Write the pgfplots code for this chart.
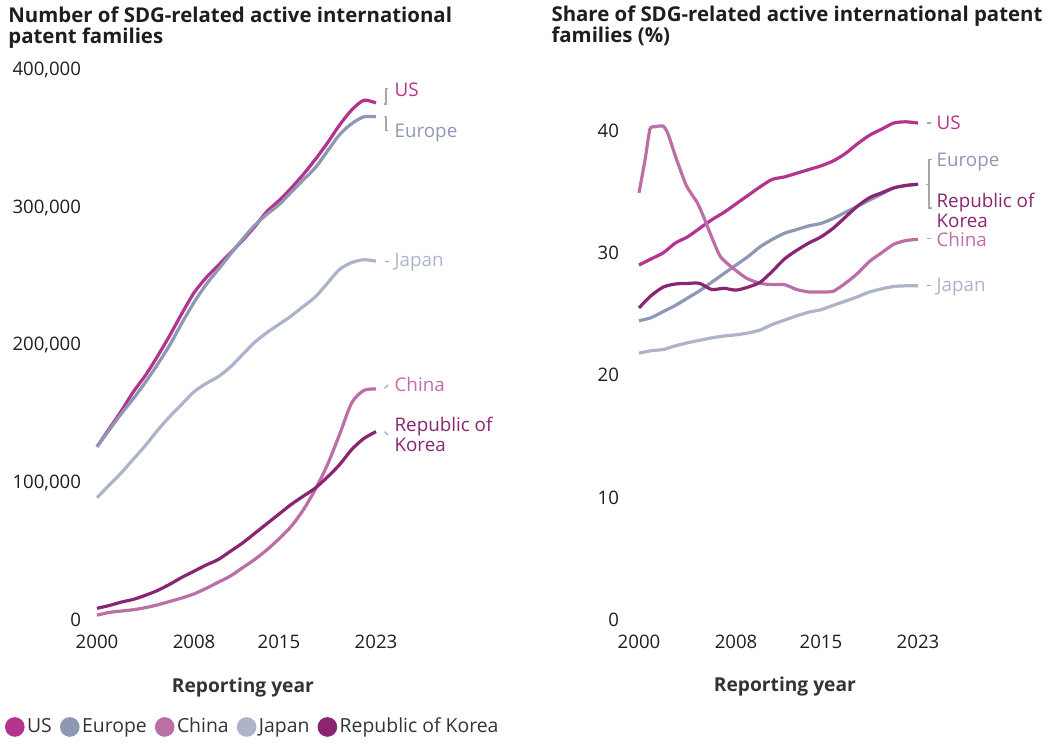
\documentclass[border=0pt]{standalone}
\usepackage{fontspec}
\setmainfont{Open Sans}
\usepackage{pgfplots}
\usepackage{pgfplotstable}
\pgfplotsset{compat=1.18}
\definecolor{cUS}{HTML}{B5338F}
\definecolor{cEU}{HTML}{8E97B4}
\definecolor{cCN}{HTML}{BC6EA7}
\definecolor{cJP}{HTML}{ADB3C9}
\definecolor{cKR}{HTML}{8A2574}
\definecolor{tickc}{HTML}{1E1E1E}
\definecolor{legc}{HTML}{333333}
\definecolor{leadc}{HTML}{A8A8A8}

\pgfplotstableread{
year US EU CN JP KR
2000 126000 126000 3500 89000 8500
2001 139000 138000 5500 98000 10500
2002 152000 150000 6500 107000 13000
2003 166000 161000 7500 117000 15000
2004 178000 173000 9000 127000 18000
2005 192000 186000 11000 138000 21500
2006 207000 200000 13500 148000 26000
2007 223000 216000 16000 157000 31000
2008 238000 231000 19000 166000 35500
2009 249000 244000 23000 172000 40000
2010 258000 255000 27500 177000 44000
2011 267000 266000 32000 184000 50000
2012 276000 277000 38000 193000 56000
2013 286000 287000 44000 202000 63000
2014 297000 295000 51000 209000 70000
2015 305000 302000 59000 215000 77000
2016 314000 311000 68000 221000 84000
2017 324000 320000 80000 228000 90000
2018 335000 329000 95000 235000 96000
2019 347000 341000 113000 245000 104000
2020 360000 353000 135000 255000 113000
2021 371000 361000 158000 260000 124000
2022 378000 366000 167000 262000 132000
2023 376000 366000 168000 261000 137000
}\counts

\pgfplotstableread{
year US EU JP KR
2000 29.0 24.45 21.8 25.5
2001 29.5 24.7 22.0 26.5
2002 30.0 25.2 22.1 27.2
2003 30.8 25.7 22.4 27.45
2004 31.3 26.3 22.65 27.5
2005 32.0 26.9 22.85 27.5
2006 32.7 27.6 23.05 27.0
2007 33.3 28.3 23.2 27.1
2008 34.0 29.0 23.3 26.95
2009 34.7 29.7 23.45 27.2
2010 35.4 30.5 23.7 27.6
2011 36.0 31.1 24.15 28.5
2012 36.2 31.6 24.5 29.5
2013 36.5 31.9 24.85 30.2
2014 36.8 32.2 25.15 30.8
2015 37.1 32.4 25.35 31.3
2016 37.5 32.8 25.7 32.0
2017 38.1 33.3 26.05 32.9
2018 38.9 33.8 26.4 33.8
2019 39.6 34.3 26.8 34.5
2020 40.1 34.8 27.05 34.9
2021 40.6 35.3 27.25 35.3
2022 40.7 35.5 27.3 35.5
2023 40.6 35.6 27.3 35.6
}\shares

% China share, read at a finer step around its early peak
\pgfplotstableread{
year CN
2000 34.9
2000.5 37.6
2000.9 40.1
2001.3 40.3
2002.0 40.35
2002.4 39.7
2003 37.9
2003.9 35.5
2004.8 34.1
2005.3 33.0
2005.9 31.5
2006.7 29.7
2007.8 28.7
2008.9 27.9
2010 27.5
2011 27.4
2012 27.4
2013 27.0
2014 26.8
2015 26.8
2016 26.85
2017 27.5
2018 28.3
2019 29.3
2020 30.0
2021 30.7
2022 31.0
2023 31.1
}\sharecn

\pgfplotsset{
  common/.style={
    scale only axis, width=139.5pt, anchor=south west,
    xmin=2000, xmax=2023, ymin=0,
    enlargelimits=false, clip=false,
    axis line style={draw=none}, tick style={draw=none}, major tick length=0pt,
    xtick={2000,2008,2015,2023},
    xticklabel style={/pgf/number format/fixed, /pgf/number format/1000 sep={}},
    xticklabel style={yshift=-3.8pt},
    ticklabel style={font=\fontsize{9.3}{10}\selectfont, text=tickc},
    /pgf/number format/assume math mode=true,
    title style={anchor=north west, align=left, inner sep=0pt, font=\bfseries\fontsize{10.2}{10.5}\selectfont, text=tickc},
    xlabel style={anchor=center, font=\bfseries\fontsize{9.6}{10}\selectfont, text=legc},
  },
  ser/.style={line width=1.6pt, smooth, tension=0.45},
}
\tikzset{
  lab/.style={anchor=west, inner sep=0pt, font=\fontsize{9.4}{10}\selectfont},
  lead/.style={draw=leadc, line width=0.6pt},
}

\begin{document}
\begin{tikzpicture}
\useasboundingbox (0,0) rectangle (524.5pt,372pt);
\begin{axis}[common,
  at={(48.5pt,62pt)}, height=275pt, ymax=400000,
  ytick={0,100000,200000,300000,400000}, scaled y ticks=false,
  yticklabel style={/pgf/number format/fixed, /pgf/number format/precision=0, /pgf/number format/1000 sep={,}},
  yticklabel style={xshift=-4.5pt},
  title={Number of SDG-related active international\\patent families},
  title style={at={(axis description cs:-0.319,1.094)}},
  xlabel={Reporting year},
  xlabel style={at={(axis description cs:0.523,-0.122)}},
  legend style={at={(axis description cs:-0.3297,-0.1945)}, anchor=west, draw=none, fill=none,
    inner sep=0pt, outer sep=0pt, legend columns=-1,
    nodes={inner sep=1.25pt, text=legc, font=\fontsize{9.7}{10}\selectfont},
    /tikz/every even column/.append style={column sep=2.8pt}},
  legend image code/.code={\fill[#1] (4.1pt,0pt) circle (4.1pt);},
]
\addplot[cUS, ser] table[x=year,y=US]{\counts};
\addlegendentry{US}
\addplot[cEU, ser] table[x=year,y=EU]{\counts};
\addlegendentry{Europe}
\addplot[cCN, ser] table[x=year,y=CN]{\counts};
\addlegendentry{China}
\addplot[cJP, ser] table[x=year,y=JP]{\counts};
\addlegendentry{Japan}
\addplot[cKR, ser] table[x=year,y=KR]{\counts};
\addlegendentry{Republic of Korea}
% leader lines
\draw[lead] (axis cs:2023.66,375300) -- (axis cs:2023.83,375300) -- (axis cs:2023.83,386500) -- (axis cs:2024.0,386500);
\draw[lead] (axis cs:2023.66,366000) -- (axis cs:2023.83,366000) -- (axis cs:2023.83,356000) -- (axis cs:2024.0,356000);
\draw[lead] (axis cs:2023.74,261000) -- (axis cs:2024.07,261000);
\draw[lead] (axis cs:2023.7,168500) -- (axis cs:2024.0,171000);
\draw[lead] (axis cs:2023.7,137000) -- (axis cs:2024.0,134500);
\node[lab, text=cUS] at (axis cs:2024.5,385500) {US};
\node[lab, text=cEU] at (axis cs:2024.5,354500) {Europe};
\node[lab, text=cJP] at (axis cs:2024.5,260000) {Japan};
\node[lab, text=cCN] at (axis cs:2024.5,171000) {China};
\node[lab, text=cKR, align=left, font=\fontsize{9.4}{8.6}\selectfont] at (axis cs:2024.5,134900) {Republic of\\Korea};
\end{axis}

\begin{axis}[common,
  at={(319.5pt,62pt)}, height=275.4pt, ymax=45,
  ytick={0,10,20,30,40},
  yticklabel style={/pgf/number format/fixed, /pgf/number format/precision=0},
  yticklabel style={xshift=-6.5pt},
  title={Share of SDG-related active international patent\\families (\%)},
  title style={at={(axis description cs:-0.315,1.094)}},
  xlabel={Reporting year},
  xlabel style={at={(axis description cs:0.523,-0.12)}},
]
\addplot[cUS, ser] table[x=year,y=US]{\shares};
\addplot[cEU, ser] table[x=year,y=EU]{\shares};
\addplot[cCN, ser, tension=0.35] table[x=year,y=CN]{\sharecn};
\addplot[cJP, ser] table[x=year,y=JP]{\shares};
\addplot[cKR, ser] table[x=year,y=KR]{\shares};
\draw[lead] (axis cs:2023.74,40.6) -- (axis cs:2024.07,40.6);
\draw[lead] (axis cs:2023.74,31.2) -- (axis cs:2024.07,31.2);
\draw[lead] (axis cs:2023.74,27.3) -- (axis cs:2024.07,27.3);
\draw[lead] (axis cs:2024.15,37.6) -- (axis cs:2023.9,37.6) -- (axis cs:2023.9,33.66) -- (axis cs:2024.15,33.66);
\draw[lead] (axis cs:2023.65,35.55) -- (axis cs:2023.9,35.55);
\node[lab, text=cUS] at (axis cs:2024.5,40.6) {US};
\node[lab, text=cEU] at (axis cs:2024.5,37.4) {Europe};
\node[lab, text=cKR, align=left, font=\fontsize{9.4}{8.6}\selectfont] at (axis cs:2024.5,33.5) {Republic of\\Korea};
\node[lab, text=cCN] at (axis cs:2024.5,31.1) {China};
\node[lab, text=cJP] at (axis cs:2024.5,27.2) {Japan};
\end{axis}
\end{tikzpicture}
\end{document}
